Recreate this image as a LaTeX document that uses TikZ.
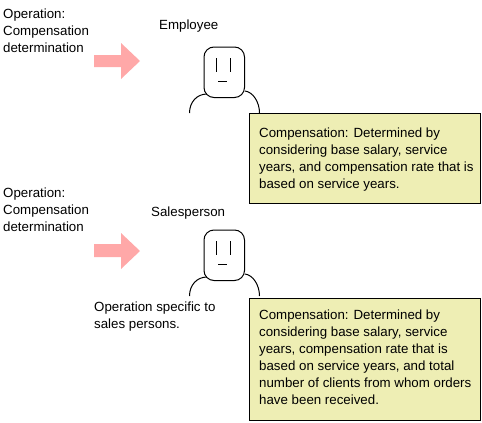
\documentclass[tikz,border=0pt]{standalone}
\usepackage{fontspec}
\setmainfont{Liberation Sans}
\definecolor{notefill}{HTML}{EEEEB4}
\definecolor{arrowfill}{HTML}{FFA8A8}
\tikzset{
    label/.style={anchor=north west,inner sep=0pt,align=left,font=\fontsize{13.3}{17}\selectfont},
    notebox/.style={draw=black,line width=1pt,fill=notefill},
    outline/.style={line width=1pt,black},
}
\begin{document}
\begin{tikzpicture}[x=1pt,y=-1pt]
    \useasboundingbox (0,0) rectangle (482,423);

    % Employee
    \node[label] (opa) at (3,8.5) {Operation:\\Compensation\\determination};
    \node[label] (employee) at (159,20) {Employee};
    \fill[arrowfill] (94,55) -- (121,55) -- (121,43) -- (140,61) -- (121,79) -- (121,67) -- (94,67) -- cycle;
    \draw[outline,rounded corners=10pt] (204,47) rectangle (244.5,97.5);
    \draw[outline] (216,58) -- (216,72);
    \draw[outline] (230,58) -- (230,72);
    \draw[outline] (218,81) -- (227,81);
    \draw[outline] (189.5,113) .. controls (189.5,102) and (197,94) .. (207,94);
    \draw[outline] (245,91) .. controls (253,92) and (259.5,102) .. (259.5,113);
    \draw[notebox] (249.5,113.5) rectangle (480,203.5);
    \node[label] (notea) at (259,128) {Compensation: Determined by\\considering base salary, service\\years, and compensation rate that is\\based on service years.};

    % Salesperson
    \node[label] (opb) at (3,188) {Operation:\\Compensation\\determination};
    \node[label] (sales) at (151,207) {Salesperson};
    \fill[arrowfill] (94,244) -- (121,244) -- (121,233) -- (140,251) -- (121,269) -- (121,257) -- (94,257) -- cycle;
    \draw[outline,rounded corners=10pt] (204,230) rectangle (244.5,280.5);
    \draw[outline] (216,241) -- (216,255);
    \draw[outline] (230,241) -- (230,255);
    \draw[outline] (218,264) -- (227,264);
    \draw[outline] (189.5,296) .. controls (189.5,285) and (197,277) .. (207,277);
    \draw[outline] (245,274) .. controls (253,275) and (259.5,285) .. (259.5,296);
    \node[label] (specific) at (94,302) {Operation specific to\\sales persons.};
    \draw[notebox] (249.5,298.5) rectangle (480,420.5);
    \node[label] (noteb) at (259,310) {Compensation: Determined by\\considering base salary, service\\years, compensation rate that is\\based on service years, and total\\number of clients from whom orders\\have been received.};
\end{tikzpicture}
\end{document}
